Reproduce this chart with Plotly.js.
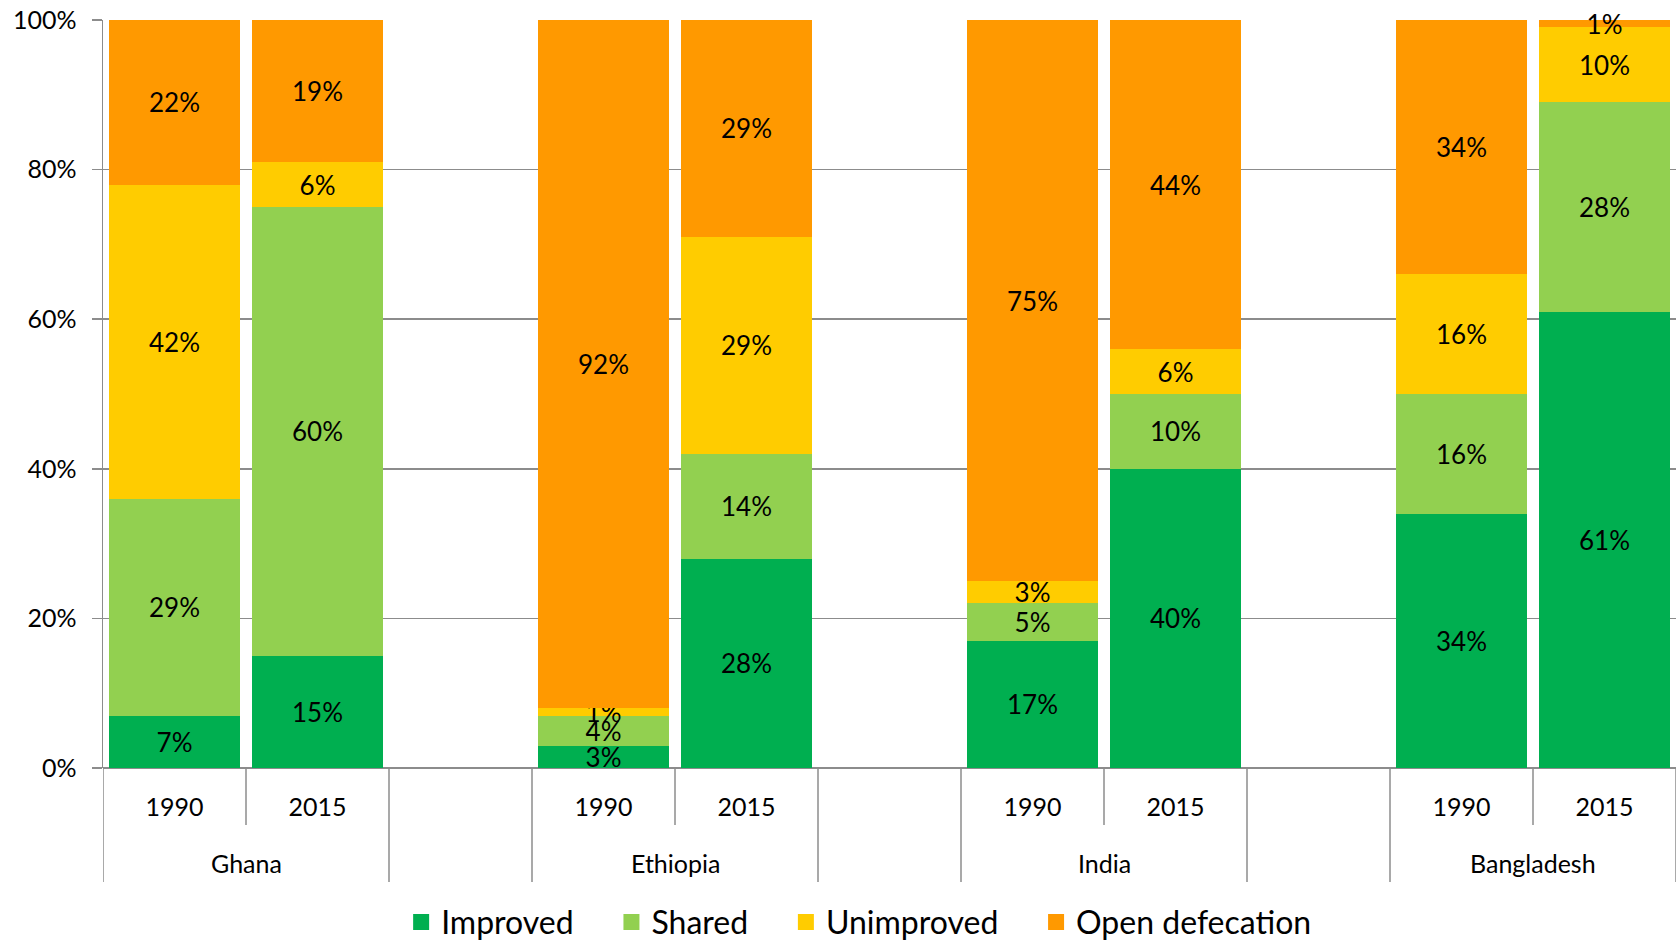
<!DOCTYPE html>
<html>
<head>
<meta charset="utf-8">
<script src="https://cdn.plot.ly/plotly-3.0.1.min.js"></script>
<style>
  html, body { margin: 0; padding: 0; background: #ffffff; }
  #chart { width: 1678px; height: 940px; }
</style>
</head>
<body>
<div id="chart"></div>
<script>
// Sanitation coverage by country and year (% of population)
const countries = ['Ghana', 'Ethiopia', 'India', 'Bangladesh'];
const years = ['1990', '2015'];

// Slot positions along the x axis: two years per country, one empty slot between countries
const slotX = [0, 1, 3, 4, 6, 7, 9, 10];
const yearLabels = ['1990', '2015', '1990', '2015', '1990', '2015', '1990', '2015'];
const countryCenters = [0.5, 3.5, 6.5, 9.5];

// Values in slot order: Ghana 1990, Ghana 2015, Ethiopia 1990, Ethiopia 2015,
// India 1990, India 2015, Bangladesh 1990, Bangladesh 2015
const improved     = [7, 15, 3, 28, 17, 40, 34, 61];
const shared       = [29, 60, 4, 14, 5, 10, 16, 28];
const unimproved   = [42, 6, 1, 29, 3, 6, 16, 10];
const openDefecation = [22, 19, 92, 29, 75, 44, 34, 1];

const seriesNames  = ['Improved', 'Shared', 'Unimproved', 'Open defecation'];
const seriesValues = [improved, shared, unimproved, openDefecation];
const seriesColors = ['#00AF50', '#92D050', '#FFCC00', '#FF9900'];

const FONT = 'Lato, "Open Sans", "DejaVu Sans", sans-serif';
const GRID = '#8c8c8c';
const LEGEND_PAD = '\u00a0\u00a0\u00a0\u00a0';

const barTraces = seriesNames.map((name, i) => ({
  type: 'bar',
  name: name,
  legendgroup: name,
  showlegend: false,
  x: slotX,
  y: seriesValues[i],
  text: seriesValues[i].map(v => v + '%'),
  texttemplate: '%{text}',
  textposition: 'inside',
  insidetextanchor: 'middle',
  constraintext: 'none',
  textangle: 0,
  cliponaxis: false,
  textfont: { family: FONT, size: 26, color: '#000000' },
  marker: { color: seriesColors[i], line: { width: 0 } },
  hoverinfo: 'skip'
}));

// Legend keys drawn as larger square markers, with extra spacing between entries
const legendTraces = seriesNames.map((name, i) => ({
  type: 'scatter',
  mode: 'markers',
  name: i < seriesNames.length - 1 ? name + LEGEND_PAD : name,
  legendgroup: name,
  x: [null],
  y: [null],
  marker: { symbol: 'square', size: 18, color: seriesColors[i] },
  hoverinfo: 'skip'
}));

// Category divider lines below the axis
const shortDividers = [0.5, 3.5, 6.5, 9.5];
const longDividers = [-0.5, 1.5, 2.5, 4.5, 5.5, 7.5, 8.5, 10.5];
const shapes = [];
shortDividers.forEach(x => shapes.push({
  type: 'line', xref: 'x', yref: 'paper', x0: x, x1: x, y0: 0, y1: -0.0762,
  line: { color: GRID, width: 1.5 }
}));
longDividers.forEach(x => shapes.push({
  type: 'line', xref: 'x', yref: 'paper', x0: x, x1: x, y0: 0, y1: -0.1524,
  line: { color: GRID, width: 1.5 }
}));

const annotations = countries.map((c, i) => ({
  text: c, xref: 'x', yref: 'paper', x: countryCenters[i], y: -0.127,
  xanchor: 'center', yanchor: 'middle', showarrow: false,
  font: { family: FONT, size: 25, color: '#000000' }
}));

const layout = {
  width: 1678,
  height: 940,
  margin: { l: 103, r: 2, t: 20, b: 172 },
  paper_bgcolor: '#ffffff',
  plot_bgcolor: '#ffffff',
  barmode: 'stack',
  bargap: 0.09,
  font: { family: FONT, size: 25, color: '#000000' },
  xaxis: {
    range: [-0.5, 10.5],
    tickvals: slotX,
    ticktext: yearLabels,
    ticks: '',
    showgrid: false,
    zeroline: false,
    showline: false,
    ticklabelstandoff: 22,
    tickfont: { family: FONT, size: 25, color: '#000000' },
    fixedrange: true
  },
  yaxis: {
    range: [0, 100],
    tickvals: [0, 20, 40, 60, 80, 100],
    ticktext: ['0%', '20%', '40%', '60%', '80%', '100%'],
    ticks: 'outside',
    ticklen: 10,
    tickwidth: 1.5,
    tickcolor: GRID,
    showgrid: true,
    gridcolor: GRID,
    gridwidth: 1.5,
    showline: true,
    linecolor: GRID,
    linewidth: 1.5,
    zeroline: true,
    zerolinecolor: GRID,
    zerolinewidth: 1.5,
    ticklabelstandoff: 10,
    tickfont: { family: FONT, size: 25, color: '#000000' },
    fixedrange: true
  },
  showlegend: true,
  legend: {
    orientation: 'h',
    xref: 'container',
    yref: 'container',
    x: 0.512,
    xanchor: 'center',
    y: 0.019,
    yanchor: 'middle',
    font: { family: FONT, size: 32, color: '#000000' },
    traceorder: 'normal',
    itemsizing: 'trace',
    itemclick: false,
    itemdoubleclick: false
  },
  shapes: shapes,
  annotations: annotations
};

Plotly.newPlot('chart', barTraces.concat(legendTraces), layout, { displayModeBar: false, staticPlot: true });
</script>
</body>
</html>
